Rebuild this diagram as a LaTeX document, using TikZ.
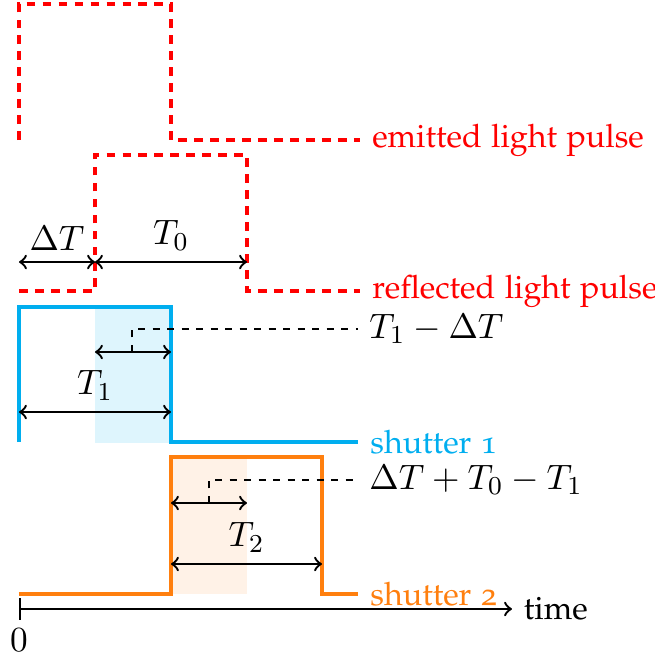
\documentclass[tikz,border=0pt]{standalone}
\usepackage[T1]{fontenc}
\renewcommand{\rmdefault}{pplj}
\definecolor{sone}{RGB}{0,174,239}
\definecolor{stwo}{RGB}{255,127,14}
\begin{document}
\begin{tikzpicture}[x=0.31pt,y=-0.31pt,
  pulse/.style={red,line width=0.95pt,dash pattern=on 2.7pt off 2.25pt},
  shut/.style={line width=1.0pt},
  dim/.style={<->,line width=0.72pt},
  lead/.style={dash pattern=on 2.2pt off 2.3pt,line width=0.4pt},
  lbl/.style={anchor=west},
  mlbl/.style={font=\fontsize{11.3}{13.6}\selectfont}]
\useasboundingbox (0,0) rectangle (655,659);
% shaded windows
\fill[sone!13] (95,307) rectangle (171,443);
\fill[stwo!10] (171,457) rectangle (247,594);
% pulses
\draw[pulse] (19,140) -- (19,4) -- (171,4) -- (171,140) -- (360,140) node[lbl,text=red] (em) {emitted light pulse};
\draw[pulse] (19,291) -- (95,291) -- (95,155) -- (247,155) -- (247,291) -- (360,291) node[lbl,text=red] (re) {reflected light pulse};
% shutters
\draw[shut,sone] (19,442) -- (19,307) -- (171,307) -- (171,442) -- (358,442) node[lbl,text=sone] (s1) {shutter 1};
\draw[shut,stwo] (19,594) -- (171,594) -- (171,457) -- (322,457) -- (322,594) -- (358,594) node[lbl,text=stwo] (s2) {shutter 2};
% dimension coordinates
\coordinate (a0) at (19,262);
\coordinate (a1) at (95,262);
\coordinate (a2) at (247,262);
\coordinate (b0) at (95,352);
\coordinate (b1) at (171,352);
\coordinate (bm) at (132,352);
\coordinate (bk) at (132,329);
\coordinate (be) at (358,329);
\coordinate (c0) at (19,412);
\coordinate (c1) at (171,412);
\coordinate (d0) at (171,503);
\coordinate (d1) at (247,503);
\coordinate (dm) at (209,503);
\coordinate (dk) at (209,480);
\coordinate (de) at (358,480);
\coordinate (e0) at (171,564);
\coordinate (e1) at (322,564);
\coordinate (t0) at (19,609);
\coordinate (t1) at (512,609);
% dimensions
\draw[dim] (a0) -- node[above,mlbl] (lDT) {$\Delta T$} (a1);
\draw[dim] (a1) -- node[above,mlbl] (lT0) {$T_0$} (a2);
\draw[dim] (b0) -- (b1);
\draw[lead] (bm) -- (bk) -- (be) node[lbl,mlbl] (lT1D) {$T_1-\Delta T$};
\draw[dim] (c0) -- node[above,mlbl] (lT1) {$T_1$} (c1);
\draw[dim] (d0) -- (d1);
\draw[lead] (dm) -- (dk) -- (de) node[lbl,mlbl] (lsum) {$\Delta T+T_0-T_1$};
\draw[dim] (e0) -- node[above,mlbl] (lT2) {$T_2$} (e1);
% time axis
\draw[|->,line width=0.72pt] (t0) -- (t1) node[lbl] (tm) {time};
\node[below,mlbl,yshift=-2.5pt] (zero) at (t0) {$0$};
\end{tikzpicture}
\end{document}
